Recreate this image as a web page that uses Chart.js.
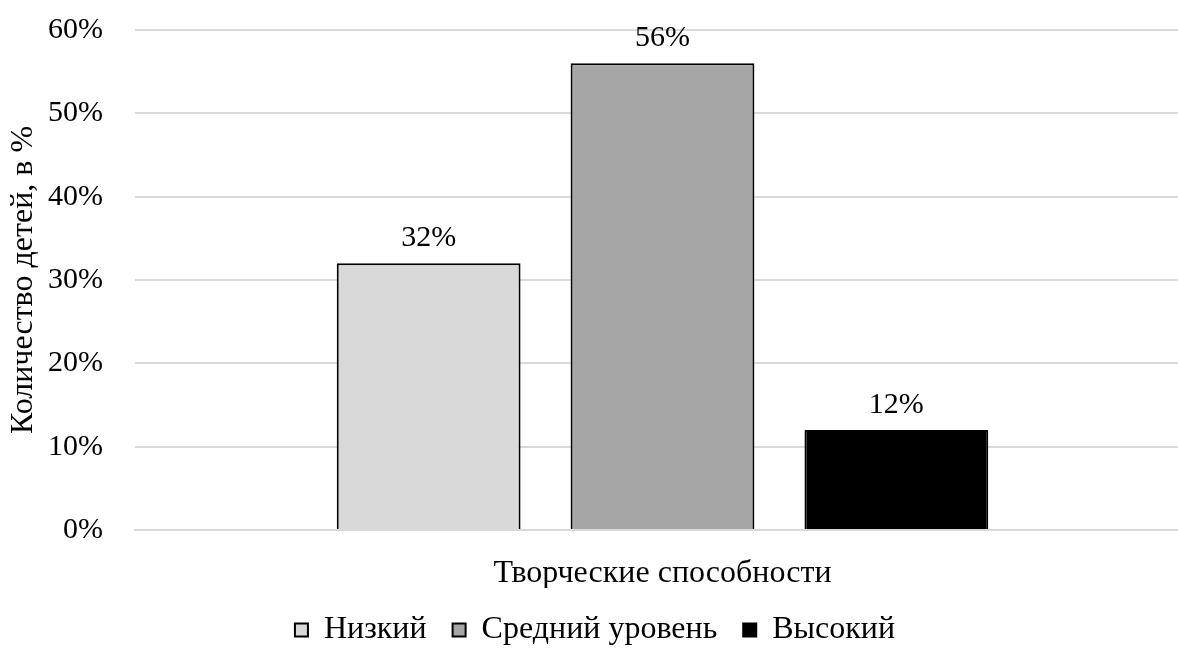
<!DOCTYPE html>
<html>
<head>
<meta charset="utf-8">
<script src="https://cdn.jsdelivr.net/npm/chart.js@4.4.1/dist/chart.umd.min.js"></script>
<style>
  html, body { margin: 0; padding: 0; background: #ffffff; overflow: hidden; }
  #wrap { width: 1190px; height: 656px; position: relative; }
</style>
</head>
<body>
<div id="wrap"><canvas id="chart"></canvas></div>
<script>
// Доля детей по уровням развития творческих способностей, %
const categories = ['Творческие способности'];
const seriesNames = ['Низкий', 'Средний уровень', 'Высокий'];
const lowValues = [32];
const middleValues = [56];
const highValues = [12];
const seriesColors = ['#d9d9d9', '#a6a6a6', '#000000'];
const yMin = 0;
const yMax = 60;
const yStep = 10;
const yAxisTitle = 'Количество детей, в %';

const FONT = '"Liberation Serif", "Times New Roman", serif';
Chart.defaults.font.family = FONT;
Chart.defaults.color = '#000000';

// Подписи значений над столбцами
const valueLabels = {
  id: 'valueLabels',
  afterDatasetsDraw(chart) {
    const ctx = chart.ctx;
    ctx.save();
    ctx.font = '30px ' + FONT;
    ctx.fillStyle = '#000000';
    ctx.textAlign = 'center';
    ctx.textBaseline = 'alphabetic';
    chart.data.datasets.forEach((ds, i) => {
      const meta = chart.getDatasetMeta(i);
      meta.data.forEach((bar, j) => {
        ctx.fillText(ds.data[j] + '%', bar.x, bar.y - 17);
      });
    });
    ctx.restore();
  }
};

const seriesData = [lowValues, middleValues, highValues];

new Chart(document.getElementById('chart'), {
  type: 'bar',
  data: {
    labels: categories,
    datasets: seriesNames.map((name, i) => ({
      label: name,
      data: seriesData[i],
      backgroundColor: seriesColors[i],
      borderColor: '#000000',
      borderWidth: 2,
      categoryPercentage: 0.665,
      barPercentage: 0.786
    }))
  },
  options: {
    responsive: true,
    maintainAspectRatio: false,
    animation: false,
    layout: { padding: { top: 30, right: 0, bottom: 0, left: 0 } },
    plugins: {
      tooltip: { enabled: false },
      legend: {
        position: 'bottom',
        labels: {
          boxWidth: 13,
          boxHeight: 13,
          padding: 26,
          font: { size: 32, family: FONT },
          color: '#000000'
        }
      }
    },
    scales: {
      x: {
        grid: { display: false },
        border: { display: true, color: '#d9d9d9', width: 2 },
        ticks: { font: { size: 32, family: FONT }, color: '#000000', padding: 16 },
        afterFit(scale) { scale.height = 58; }
      },
      y: {
        min: yMin,
        max: yMax,
        grid: { color: '#d9d9d9', lineWidth: 2, drawTicks: false },
        border: { display: false },
        ticks: {
          stepSize: yStep,
          padding: 32,
          font: { size: 30, family: FONT },
          color: '#000000',
          callback: v => v + '%'
        },
        title: {
          display: true,
          text: yAxisTitle,
          font: { size: 32, family: FONT },
          color: '#000000',
          padding: { top: 4, bottom: 0 }
        },
        afterFit(scale) {
          scale.width = 135;
          scale.paddingTop = 0;
          scale.paddingBottom = 0;
        }
      }
    }
  },
  plugins: [valueLabels]
});
</script>
</body>
</html>
